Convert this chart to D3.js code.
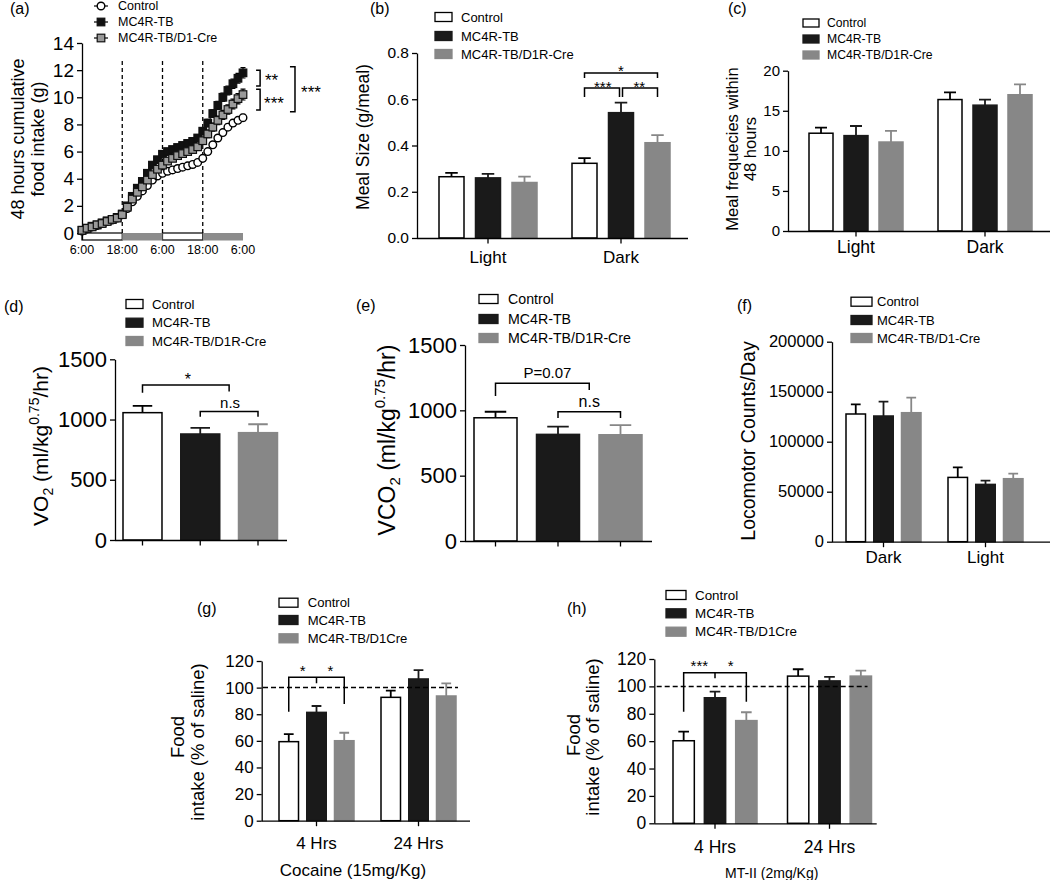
<!DOCTYPE html>
<html>
<head>
<meta charset="utf-8">
<script src="https://cdn.jsdelivr.net/npm/d3@7"></script>
<style>
  body { margin: 0; background: #fff; }
  svg text { font-family: "Liberation Sans", Arial, sans-serif; fill: #000; }
</style>
</head>
<body>
<svg id="fig" width="1050" height="880"></svg>
<script>
// ---------- data ----------

// (a) cumulative food intake, every 1.5 h over 48 h
const hours = [0, 1.5, 3, 4.5, 6, 7.5, 9, 10.5, 12, 13.5, 15, 16.5, 18, 19.5, 21, 22.5, 24,
  25.5, 27, 28.5, 30, 31.5, 33, 34.5, 36, 37.5, 39, 40.5, 42, 43.5, 45, 46.5, 48];
const intakeControl = [0.15, 0.3, 0.45, 0.55, 0.7, 0.85, 0.95, 1.1, 1.35, 1.8, 2.3, 2.7, 3.1, 3.5, 3.9, 4.2, 4.4,
  4.55, 4.65, 4.75, 4.85, 4.95, 5.05, 5.2, 5.5, 6.0, 6.5, 7.0, 7.4, 7.8, 8.1, 8.3, 8.5];
const intakeMC4R = [0.2, 0.35, 0.5, 0.6, 0.75, 0.9, 1.0, 1.15, 1.4, 2.0, 2.7, 3.3, 3.8, 4.4, 5.0, 5.4, 5.8,
  6.0, 6.15, 6.3, 6.45, 6.6, 6.75, 7.0, 7.5, 8.1, 8.8, 9.4, 10.0, 10.5, 11.0, 11.4, 11.8];
const intakeD1 = [0.2, 0.35, 0.45, 0.6, 0.7, 0.85, 1.0, 1.1, 1.35, 1.9, 2.5, 3.0, 3.4, 3.9, 4.3, 4.7, 5.0,
  5.3, 5.5, 5.7, 5.85, 6.0, 6.15, 6.35, 6.8, 7.3, 7.8, 8.3, 8.7, 9.1, 9.5, 9.9, 10.2];
const intakeControlErr = [0.05, 0.05, 0.05, 0.05, 0.06, 0.06, 0.07, 0.07, 0.08, 0.1, 0.1, 0.12, 0.12, 0.13, 0.14, 0.15, 0.15,
  0.15, 0.16, 0.16, 0.17, 0.17, 0.18, 0.18, 0.19, 0.2, 0.2, 0.21, 0.21, 0.22, 0.22, 0.23, 0.24];
const intakeMC4RErr = [0.05, 0.05, 0.05, 0.06, 0.06, 0.07, 0.07, 0.08, 0.09, 0.1, 0.12, 0.14, 0.15, 0.16, 0.18, 0.2, 0.2,
  0.2, 0.21, 0.21, 0.22, 0.22, 0.23, 0.24, 0.25, 0.27, 0.28, 0.3, 0.31, 0.33, 0.34, 0.36, 0.38];
const intakeD1Err = [0.05, 0.05, 0.05, 0.06, 0.06, 0.07, 0.07, 0.08, 0.09, 0.1, 0.12, 0.14, 0.15, 0.16, 0.18, 0.2, 0.2,
  0.2, 0.21, 0.22, 0.22, 0.23, 0.24, 0.25, 0.26, 0.28, 0.3, 0.31, 0.33, 0.34, 0.36, 0.38, 0.4];
const clockHours = [0, 12, 24, 36, 48];
const clockLabels = ["6:00", "18:00", "6:00", "18:00", "6:00"];
const lightPhases = [[0, 12], [24, 36]];
const darkPhases = [[12, 24], [36, 48]];
const yTicksA = [0, 2, 4, 6, 8, 10, 12, 14];

// group names used in the legends
const namesA = ["Control", "MC4R-TB", "MC4R-TB/D1-Cre"];
const namesR = ["Control", "MC4R-TB", "MC4R-TB/D1R-Cre"];
const namesD1 = ["Control", "MC4R-TB", "MC4R-TB/D1-Cre"];
const namesD1Cre = ["Control", "MC4R-TB", "MC4R-TB/D1Cre"];

// (b) meal size, rows = Control, MC4R-TB, D1R-Cre ; columns = Light, Dark
const phases = ["Light", "Dark"];
const mealSize = [[0.265, 0.323], [0.26, 0.542], [0.24, 0.412]];
const mealSizeErr = [[0.017, 0.022], [0.017, 0.043], [0.025, 0.033]];
const yTicksB = [0, 0.2, 0.4, 0.6, 0.8];

// (c) meal frequencies
const mealFreq = [[12.2, 16.4], [11.9, 15.7], [11.1, 17.0]];
const mealFreqErr = [[0.7, 0.9], [1.2, 0.7], [1.4, 1.3]];
const yTicksC = [0, 5, 10, 15, 20];

// (d) VO2, (e) VCO2
const vo2 = [1057, 880, 891];
const vo2Err = [56, 50, 70];
const vco2 = [943, 816, 813];
const vco2Err = [46, 59, 74];
const yTicksDE = [0, 500, 1000, 1500];

// (f) locomotor counts
const locoPhases = ["Dark", "Light"];
const loco = [[127700, 64300], [125700, 57300], [129000, 63000]];
const locoErr = [[9600, 10000], [14300, 3700], [15000, 5000]];
const yTicksF = [0, 50000, 100000, 150000, 200000];

// (g) cocaine, (h) MT-II
const timepoints = ["4 Hrs", "24 Hrs"];
const cocaine = [[59.4, 92.7], [81.4, 106.5], [60.1, 93.7]];
const cocaineErr = [[5.7, 5.0], [4.8, 6.7], [6.0, 9.5]];
const mt2 = [[60.3, 107.5], [91.7, 104], [75, 107.5]];
const mt2Err = [[6.6, 5], [4.4, 3], [6.1, 4]];
const yTicksGH = [0, 20, 40, 60, 80, 100, 120];

// ---------- drawing ----------
const svg = d3.select("#fig");
const FILL = ["#fff", "#1a1a1a", "#878787"];
const STROKE = ["#000", "#1a1a1a", "#878787"];

function txt(g, x, y, s, size, anchor) {
    return g.append("text").attr("x", x).attr("y", y).attr("dy", "0.35em")
        .attr("font-size", size).attr("text-anchor", anchor || "middle").text(s);
}

function vtitle(g, x, y, s, size) {
    return g.append("text").attr("transform", `translate(${x},${y}) rotate(-90)`)
        .attr("dy", "0.35em").attr("text-anchor", "middle").attr("font-size", size).text(s);
}

function star(g, x, yc, s, size) {
    return g.append("text").attr("x", x).attr("y", yc + size * 0.55)
        .attr("text-anchor", "middle").attr("font-size", size).text(s);
}

function bracket(g, d) {
    g.append("path").attr("d", d).attr("fill", "none")
        .attr("stroke", "#000").attr("stroke-width", 1.5);
}

function yAxis(g, y, x, ticks, fmt, size) {
    const ax = g.append("g").attr("transform", `translate(${x},0)`)
        .call(d3.axisLeft(y).tickValues(ticks).tickFormat(fmt).tickSize(5).tickPadding(3).tickSizeOuter(0));
    ax.attr("font-size", size);
    ax.selectAll("text").attr("font-size", size);
    ax.selectAll("line,path").attr("stroke", "#000").attr("stroke-width", 1.3);
    return ax;
}

function legend(g, o) {
    o.names.forEach((n, s) => {
        g.append("rect").attr("x", o.x).attr("y", o.ys[s] - o.h / 2)
            .attr("width", o.w).attr("height", o.h)
            .attr("fill", FILL[s]).attr("stroke", STROKE[s]).attr("stroke-width", 1.3);
        txt(g, o.tx, o.ys[s], n, o.size, "start");
    });
}

function barPanel(o) {
    const g = svg.append("g");
    const y = d3.scaleLinear().domain(o.yDomain).range(o.yRange);
    const x = d3.scalePoint().domain(o.cats).range(o.xRange);
    const inner = d3.scaleBand().domain([0, 1, 2]).range([-o.half, o.half]).paddingInner(o.pad);
    const bw = inner.bandwidth();
    const cx = (s, i) => x(o.cats[i]) + inner(s) + bw / 2;

    const rows = [];
    o.values.forEach((vals, s) => vals.forEach((v, i) => rows.push({ s, i, v, e: o.errs[s][i] })));

    g.selectAll("path.err").data(rows).join("path").attr("class", "err")
        .attr("d", d => {
            const c = cx(d.s, d.i), w = bw * 0.25, top = y(d.v + d.e);
            return `M${c},${y(d.v)}V${top}M${c - w},${top}H${c + w}`;
        })
        .attr("fill", "none").attr("stroke", d => STROKE[d.s]).attr("stroke-width", 1.8);

    g.selectAll("rect.bar").data(rows).join("rect").attr("class", "bar")
        .attr("x", d => cx(d.s, d.i) - bw / 2)
        .attr("y", d => y(d.v))
        .attr("width", bw)
        .attr("height", d => y(0) - y(d.v))
        .attr("fill", d => FILL[d.s])
        .attr("stroke", d => STROKE[d.s])
        .attr("stroke-width", 1.5);

    yAxis(g, y, o.xAxis[0], o.yTicks, o.yFmt, o.tickFont);

    // x baseline + ticks
    const y0 = y(0) + 0.5;
    g.append("line").attr("x1", o.xAxis[0]).attr("x2", o.xAxis[1])
        .attr("y1", y0).attr("y2", y0).attr("stroke", "#000").attr("stroke-width", 1.3);
    const tickXs = o.ticksAtBars ? rows.map(d => cx(d.s, d.i)) : o.cats.map(c => x(c));
    tickXs.forEach(tx => g.append("line").attr("x1", tx).attr("x2", tx)
        .attr("y1", y0).attr("y2", y0 + 5).attr("stroke", "#000").attr("stroke-width", 1.3));
    if (!o.ticksAtBars) {
        o.cats.forEach(c => txt(g, x(c), o.labelY, c, o.labelFont));
    }

    legend(g, o.legend);
    return { g, y, cx, bw };
}

// ---------- (a) ----------
(function () {
    const g = svg.append("g");
    const x = d3.scaleLinear().domain([0, 48]).range([82, 243]);
    const y = d3.scaleLinear().domain([0, 14]).range([233, 43]);

    // day / night bar
    lightPhases.forEach(p => g.append("rect").attr("x", x(p[0])).attr("y", y(0))
        .attr("width", x(p[1]) - x(p[0])).attr("height", 7)
        .attr("fill", "#fff").attr("stroke", "#000").attr("stroke-width", 1.2));
    darkPhases.forEach(p => g.append("rect").attr("x", x(p[0])).attr("y", y(0))
        .attr("width", x(p[1]) - x(p[0])).attr("height", 7.5).attr("fill", "#8c8c8c"));

    // dashed phase boundaries
    [12, 24, 36].forEach(t => g.append("line").attr("x1", x(t)).attr("x2", x(t))
        .attr("y1", y(0)).attr("y2", y(12.8)).attr("stroke", "#000")
        .attr("stroke-width", 1.3).attr("stroke-dasharray", "4,3"));

    yAxis(g, y, 82, yTicksA, d3.format("d"), 19);
    g.append("line").attr("x1", 82.5).attr("x2", 82.5).attr("y1", y(0)).attr("y2", 240)
        .attr("stroke", "#000").attr("stroke-width", 1.3);

    clockHours.forEach((t, i) => txt(g, x(t), 250, clockLabels[i], 12.5));

    const series = [
        { v: intakeControl, e: intakeControlErr, shape: "circle", fill: "#fff" },
        { v: intakeMC4R, e: intakeMC4RErr, shape: "square", fill: "#111" },
        { v: intakeD1, e: intakeD1Err, shape: "square", fill: "#9a9a9a" }
    ];
    const line = d3.line().x((d, i) => x(hours[i])).y(d => y(d));

    function marker(sel, shape, fill) {
        if (shape === "circle") {
            sel.append("circle").attr("r", 3.8).attr("fill", fill)
                .attr("stroke", "#000").attr("stroke-width", 1.4);
        } else {
            sel.append("rect").attr("x", -3.8).attr("y", -3.8).attr("width", 7.6).attr("height", 7.6)
                .attr("fill", fill).attr("stroke", "#111").attr("stroke-width", 1.2);
        }
    }

    series.forEach(s => {
        g.append("path").attr("d", line(s.v)).attr("fill", "none")
            .attr("stroke", "#000").attr("stroke-width", 1);
        g.selectAll(null).data(s.v).join("path")
            .attr("d", (d, i) => {
                const cx = x(hours[i]), hi = y(d + s.e[i]), lo = y(d - s.e[i]);
                return `M${cx},${lo}V${hi}M${cx - 2.5},${hi}H${cx + 2.5}M${cx - 2.5},${lo}H${cx + 2.5}`;
            })
            .attr("stroke", "#000").attr("stroke-width", 1.2).attr("fill", "none");
        const pts = g.selectAll(null).data(s.v).join("g")
            .attr("transform", (d, i) => `translate(${x(hours[i])},${y(d)})`);
        marker(pts, s.shape, s.fill);
    });

    // legend
    const legY = [6, 22, 38];
    series.forEach((s, i) => {
        g.append("line").attr("x1", 94).attr("x2", 108).attr("y1", legY[i]).attr("y2", legY[i])
            .attr("stroke", "#000").attr("stroke-width", 1.2);
        const m = g.append("g").attr("transform", `translate(101,${legY[i]})`);
        marker(m, s.shape, s.fill);
        txt(g, 118, legY[i], namesA[i], 12.5, "start");
    });

    // significance brackets
    bracket(g, `M${x(51.9)},${y(12.0)}H${x(53.1)}V${y(10.83)}H${x(51.9)}`);
    bracket(g, `M${x(51.9)},${y(10.6)}H${x(53.1)}V${y(9.06)}H${x(51.9)}`);
    bracket(g, `M${x(62)},${y(12.25)}H${x(63.5)}V${y(8.94)}H${x(62)}`);
    star(g, 271.5, 76.7, "**", 17);
    star(g, 274, 100, "***", 17);
    star(g, 311, 88.5, "***", 17);

    vtitle(g, 18, 139, "48 hours cumulative", 18);
    vtitle(g, 38, 139, "food intake (g)", 18);
    txt(g, 10, 8, "(a)", 16, "start");
})();

// ---------- (b) ----------
(function () {
    const P = barPanel({
        cats: phases, values: mealSize, errs: mealSizeErr,
        yDomain: [0, 0.8], yRange: [238, 53], yTicks: yTicksB, yFmt: d3.format(".1f"), tickFont: 15.5,
        xRange: [488, 621], half: 49, pad: 0.315, xAxis: [417, 688], labelY: 257, labelFont: 17,
        legend: { x: 435, ys: [17, 36, 54], w: 17, h: 9, tx: 461, size: 13, names: namesR }
    });
    const c0 = P.cx(0, 1), c1 = P.cx(1, 1), c2 = P.cx(2, 1);
    bracket(P.g, `M${c0},${P.y(0.692)}V${P.y(0.713)}H${c2}V${P.y(0.692)}`);
    bracket(P.g, `M${c0},${P.y(0.61)}V${P.y(0.649)}H${c1 - 1.5}V${P.y(0.61)}`);
    bracket(P.g, `M${c1 + 1.5},${P.y(0.61)}V${P.y(0.649)}H${c2}V${P.y(0.61)}`);
    star(P.g, (c0 + c2) / 2, P.y(0.736), "*", 15);
    star(P.g, (c0 + c1) / 2, P.y(0.669), "***", 15);
    star(P.g, (c1 + c2) / 2, P.y(0.669), "**", 15);
    vtitle(P.g, 363, 137, "Meal Size (g/meal)", 17.5);
    txt(P.g, 370, 8, "(b)", 16, "start");
})();

// ---------- (c) ----------
(function () {
    const P = barPanel({
        cats: phases, values: mealFreq, errs: mealFreqErr,
        yDomain: [0, 20], yRange: [231, 70.7], yTicks: yTicksC, yFmt: d3.format("d"), tickFont: 15,
        xRange: [856, 985], half: 47, pad: 0.314, xAxis: [788, 1050], labelY: 247, labelFont: 17.5,
        legend: { x: 803, ys: [23, 39, 55], w: 16, h: 8, tx: 827, size: 12.2, names: namesR }
    });
    vtitle(P.g, 732, 149, "Meal frequecies within", 16.5);
    vtitle(P.g, 750, 149, "48 hours", 16.5);
    txt(P.g, 728, 8, "(c)", 16, "start");
})();

// ---------- (d) ----------
(function () {
    const P = barPanel({
        cats: [""], values: vo2.map(v => [v]), errs: vo2Err.map(v => [v]), ticksAtBars: true,
        yDomain: [0, 1500], yRange: [540, 359.3], yTicks: yTicksDE, yFmt: d3.format("d"), tickFont: 22,
        xRange: [200.25, 200.25], half: 77.25, pad: 0.325, xAxis: [115, 287],
        legend: { x: 126, ys: [304, 322.7, 341], w: 17, h: 9, tx: 152, size: 13.2, names: namesR }
    });
    const c0 = P.cx(0, 0), c1 = P.cx(1, 0), c2 = P.cx(2, 0), m = (c1 + c2) / 2;
    bracket(P.g, `M${c0},${P.y(1223)}V${P.y(1287)}H${m}V${P.y(1232)}`);
    bracket(P.g, `M${c1},${P.y(1024)}V${P.y(1066)}H${c2}V${P.y(1024)}`);
    star(P.g, (c0 + m) / 2 + 2, P.y(1362), "*", 16);
    txt(P.g, m + 1, P.y(1140), "n.s", 15);
    const t = P.g.append("text").attr("transform", "translate(41,446) rotate(-90)")
        .attr("text-anchor", "middle").attr("font-size", 21).attr("dy", "0.35em");
    t.append("tspan").text("VO");
    t.append("tspan").attr("font-size", 14).attr("dy", 5).text("2");
    t.append("tspan").attr("dy", -5).text(" (ml/kg");
    t.append("tspan").attr("font-size", 14).attr("dy", -9).text("0.75");
    t.append("tspan").attr("dy", 9).text("/hr)");
    txt(P.g, 4, 306, "(d)", 16, "start");
})();

// ---------- (e) ----------
(function () {
    const P = barPanel({
        cats: [""], values: vco2.map(v => [v]), errs: vco2Err.map(v => [v]), ticksAtBars: true,
        yDomain: [0, 1500], yRange: [541, 345], yTicks: yTicksDE, yFmt: d3.format("d"), tickFont: 22,
        xRange: [558, 558], half: 84, pad: 0.312, xAxis: [465, 652],
        legend: { x: 479, ys: [299, 319, 338], w: 19, h: 9, tx: 508, size: 14.2, names: namesR }
    });
    const c0 = P.cx(0, 0), c1 = P.cx(1, 0), c2 = P.cx(2, 0), m = (c1 + c2) / 2;
    bracket(P.g, `M${c0},${P.y(1109)}V${P.y(1207)}H${m}V${P.y(1155)}`);
    bracket(P.g, `M${c1},${P.y(941)}V${P.y(989)}H${c2}V${P.y(941)}`);
    txt(P.g, (c0 + m) / 2 + 5, P.y(1288), "P=0.07", 15);
    txt(P.g, m, P.y(1066), "n.s", 16);
    const t = P.g.append("text").attr("transform", "translate(387,440) rotate(-90)")
        .attr("text-anchor", "middle").attr("font-size", 23).attr("dy", "0.35em");
    t.append("tspan").text("VCO");
    t.append("tspan").attr("font-size", 15).attr("dy", 5).text("2");
    t.append("tspan").attr("dy", -5).text(" (ml/kg");
    t.append("tspan").attr("font-size", 15).attr("dy", -10).text("0.75");
    t.append("tspan").attr("dy", 10).text("/hr)");
    txt(P.g, 356, 305, "(e)", 16, "start");
})();

// ---------- (f) ----------
(function () {
    const P = barPanel({
        cats: locoPhases, values: loco, errs: locoErr,
        yDomain: [0, 200000], yRange: [541.7, 341.7], yTicks: yTicksF, yFmt: d3.format("d"), tickFont: 16.5,
        xRange: [883.5, 985.5], half: 37.5, pad: 0.297, xAxis: [832, 1050], labelY: 557, labelFont: 17,
        legend: { x: 851, ys: [301.7, 320, 338], w: 21, h: 9, tx: 877, size: 13, names: namesD1 }
    });
    vtitle(P.g, 748, 441, "Locomotor Counts/Day", 19.5);
    txt(P.g, 737, 305, "(f)", 16, "start");
})();

// ---------- (g) ----------
(function () {
    const P = barPanel({
        cats: timepoints, values: cocaine, errs: cocaineErr,
        yDomain: [0, 120], yRange: [820.7, 661], yTicks: yTicksGH, yFmt: d3.format("d"), tickFont: 17,
        xRange: [316.5, 418.5], half: 37.5, pad: 0.297, xAxis: [261.7, 470], labelY: 843, labelFont: 17,
        legend: { x: 279, ys: [602.7, 620, 638.3], w: 19, h: 9, tx: 307.7, size: 13.1, names: namesD1Cre }
    });
    P.g.append("line").attr("x1", 263).attr("x2", P.cx(2, 1) + P.bw / 2 + 2)
        .attr("y1", P.y(100)).attr("y2", P.y(100))
        .attr("stroke", "#000").attr("stroke-width", 1.5).attr("stroke-dasharray", "5,3");
    const c0 = P.cx(0, 0), c1 = P.cx(1, 0), c2 = P.cx(2, 0);
    bracket(P.g, `M${c0},${P.y(81.9)}V${P.y(107.7)}H${c2}V${P.y(87.7)}M${c1},${P.y(107.7)}V${P.y(103.2)}`);
    star(P.g, (c0 + c1) / 2, P.y(114.6), "*", 15);
    star(P.g, (c1 + c2) / 2, P.y(114.6), "*", 15);
    txt(P.g, 353, 870, "Cocaine (15mg/Kg)", 17);
    vtitle(P.g, 178, 737, "Food", 18.5);
    vtitle(P.g, 198, 742, "intake (% of saline)", 18.5);
    txt(P.g, 197, 608, "(g)", 16, "start");
})();

// ---------- (h) ----------
(function () {
    const P = barPanel({
        cats: timepoints, values: mt2, errs: mt2Err,
        yDomain: [0, 120], yRange: [823.3, 659], yTicks: yTicksGH, yFmt: d3.format("d"), tickFont: 17.5,
        xRange: [715, 829.5], half: 42, pad: 0.32, xAxis: [654.3, 876.7], labelY: 847.3, labelFont: 17.5,
        legend: { x: 666, ys: [595, 613.3, 631.7], w: 20, h: 9, tx: 695, size: 13.4, names: namesD1Cre }
    });
    P.g.append("line").attr("x1", 656.7).attr("x2", P.cx(2, 1) + P.bw / 2 - 4)
        .attr("y1", P.y(100)).attr("y2", P.y(100))
        .attr("stroke", "#000").attr("stroke-width", 1.5).attr("stroke-dasharray", "5,3");
    const c0 = P.cx(0, 0), c1 = P.cx(1, 0), c2 = P.cx(2, 0);
    bracket(P.g, `M${c0},${P.y(81.5)}V${P.y(110)}H${c2}V${P.y(88.8)}M${c1},${P.y(110)}V${P.y(105.9)}`);
    star(P.g, (c0 + c1) / 2, P.y(116.9), "***", 15);
    star(P.g, (c1 + c2) / 2, P.y(116.9), "*", 15);
    txt(P.g, 771.7, 873.3, "MT-II (2mg/Kg)", 14);
    vtitle(P.g, 574, 735, "Food", 18.5);
    vtitle(P.g, 593, 737, "intake (% of saline)", 18.5);
    txt(P.g, 567, 608, "(h)", 16, "start");
})();
</script>
</body>
</html>
